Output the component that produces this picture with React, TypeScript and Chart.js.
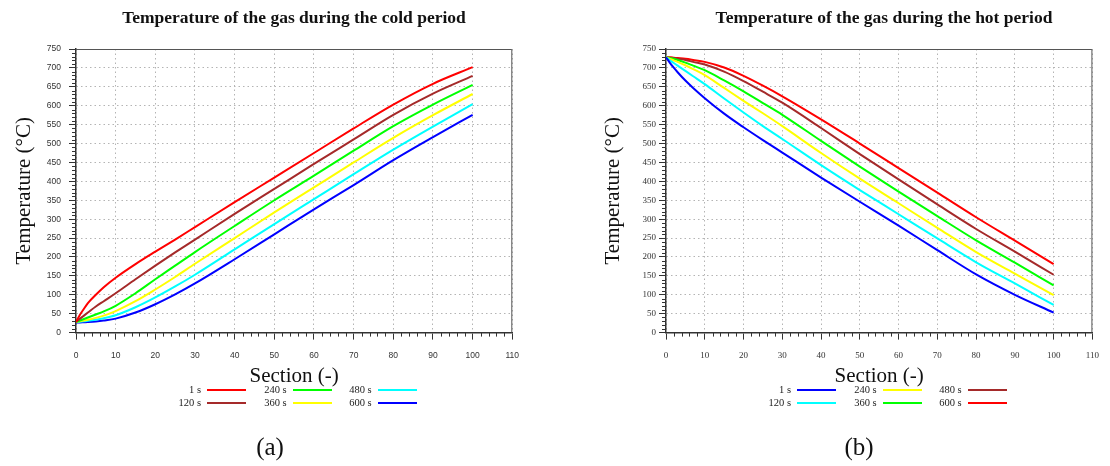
import React, { useEffect, useRef } from "react";
import { Chart, registerables } from "chart.js";

Chart.register(...registerables);

// ---------- data ----------
const SECTIONS = [0, 1, 2, 3, 5, 7, 10, 15, 20, 25, 30, 40, 50, 60, 70, 80, 90, 100];
const TIME_LABELS = ["1 s", "120 s", "240 s", "360 s", "480 s", "600 s"];

// cold period (gas temperature, °C)
const COLD_1S = [28, 47, 63, 78, 100, 120, 145, 181, 214, 246, 279, 345, 410, 475, 540, 603, 658, 702];
const COLD_120S = [28, 37, 45, 53, 69, 83, 104, 141, 177, 212, 246, 314, 380, 446, 511, 576, 632, 679];
const COLD_240S = [28, 32, 36, 40, 48, 56, 71, 104, 141, 177, 213, 282, 350, 415, 481, 546, 603, 655];
const COLD_360S = [28, 30, 32, 34, 39, 45, 57, 83, 114, 147, 182, 250, 318, 384, 450, 515, 575, 631];
const COLD_480S = [28, 29, 30, 31, 34, 38, 46, 67, 93, 122, 153, 220, 287, 353, 419, 484, 545, 604];
const COLD_600S = [27, 27, 27.5, 28, 29.5, 32, 37, 53, 75, 101, 130, 194, 260, 326, 390, 456, 517, 576];

// hot period (gas temperature, °C)
const HOT_1S = [728, 713.5, 700.5, 688.5, 666.5, 647, 620, 579, 543, 509, 476, 410, 346, 283, 218, 154, 100, 53];
const HOT_120S = [728, 720, 713, 706, 692, 678, 657, 619, 582, 546, 512, 443, 377, 313, 249, 186, 130, 73];
const HOT_240S = [728, 724, 720, 716, 707, 697, 681, 647, 613, 580, 546, 475, 407, 342, 277, 213, 156, 99];
const HOT_360S = [728, 726, 724, 721, 714, 706, 694, 667, 638, 607, 576, 507, 439, 373, 308, 244, 185, 125];
const HOT_480S = [728, 727, 726, 724, 721, 716, 709, 690, 665, 637, 608, 541, 472, 405, 339, 274, 214, 153];
const HOT_600S = [728, 728, 727, 726, 724, 721, 716, 701, 679, 653, 625, 564, 500, 435, 370, 305, 243, 181];

const COLD_SERIES = [COLD_1S, COLD_120S, COLD_240S, COLD_360S, COLD_480S, COLD_600S];
const HOT_SERIES = [HOT_1S, HOT_120S, HOT_240S, HOT_360S, HOT_480S, HOT_600S];

const COLD_COLORS = ["#ff0000", "#a52a2a", "#00ff00", "#ffff00", "#00ffff", "#0000ff"];
const HOT_COLORS = ["#0000ff", "#00ffff", "#ffff00", "#00ff00", "#a52a2a", "#ff0000"];

const X_MIN = 0;
const X_MAX = 110;
const X_STEP = 10;
const X_MINOR_STEP = 2;
const Y_MIN = 0;
const Y_MAX = 750;
const Y_STEP = 50;
const Y_MINOR_STEP = 10;

const COLD_TITLE = "Temperature of the gas during the cold period";
const HOT_TITLE = "Temperature of the gas during the hot period";
const X_TITLE = "Section (-)";
const Y_TITLE = "Temperature (°C)";

const SERIF = "'Liberation Serif', 'DejaVu Serif', serif";
const SANS = "'Liberation Sans', Arial, sans-serif";

// ---------- plugin: frame + minor ticks ----------
const framePlugin = {
  id: "frameMinor",
  afterDraw(chart: any) {
    const { ctx, chartArea: a, scales } = chart;
    const x = scales.x;
    const y = scales.y;
    ctx.save();
    ctx.strokeStyle = "#555";
    ctx.lineWidth = 1;
    ctx.beginPath();
    ctx.moveTo(a.left, a.top + 0.5);
    ctx.lineTo(a.right - 0.5, a.top + 0.5);
    ctx.lineTo(a.right - 0.5, a.bottom);
    ctx.stroke();
    ctx.strokeStyle = "#333";
    ctx.beginPath();
    for (let v = X_MIN; v <= X_MAX; v += X_MINOR_STEP) {
      if (v % X_STEP === 0) continue;
      const px = Math.round(x.getPixelForValue(v)) + 0.5;
      ctx.moveTo(px, a.bottom);
      ctx.lineTo(px, a.bottom + 4);
    }
    for (let v = Y_MIN; v <= Y_MAX; v += Y_MINOR_STEP) {
      if (v % Y_STEP === 0) continue;
      const py = Math.round(y.getPixelForValue(v)) + 0.5;
      ctx.moveTo(a.left - 4, py);
      ctx.lineTo(a.left, py);
    }
    ctx.stroke();
    ctx.restore();
  },
};

type PanelProps = {
  left: number;
  series: number[][];
  colors: string[];
  tickFont: any;
  yAxisWidth: number;
  padRight: number;
  yTitlePad: number;
  yTickPad: number;
};

function Panel({ left, series, colors, tickFont, yAxisWidth, padRight, yTitlePad, yTickPad }: PanelProps) {
  const ref = useRef<HTMLCanvasElement>(null);
  useEffect(() => {
    if (!ref.current) return;
    const datasets = series.map((vals, i) => ({
      label: TIME_LABELS[i],
      data: SECTIONS.map((s, j) => ({ x: s, y: vals[j] })),
      borderColor: colors[i],
      backgroundColor: colors[i],
      borderWidth: 2,
      pointRadius: 0,
      cubicInterpolationMode: "monotone" as const,
      fill: false,
    }));
    const chart = new Chart(ref.current, {
      type: "line",
      data: { datasets },
      options: {
        animation: false,
        responsive: false,
        devicePixelRatio: 1,
        layout: { padding: { left: 0, top: 49, right: padRight, bottom: 76 } },
        plugins: { legend: { display: false }, title: { display: false }, tooltip: { enabled: false } },
        scales: {
          x: {
            type: "linear",
            min: X_MIN,
            max: X_MAX,
            ticks: { stepSize: X_STEP, font: tickFont, color: "#333", padding: 11, maxRotation: 0 },
            grid: { color: "#b4b4b4", lineWidth: 1, tickColor: "#333", tickLength: 7, tickWidth: 1 },
            border: { color: "#333", width: 1.5, dash: [1.5, 3] },
            title: {
              display: true,
              text: X_TITLE,
              font: { family: SERIF, size: 21 },
              color: "#111",
              padding: { top: 0, bottom: 1.4 },
            },
            afterFit: (s: any) => {
              s.height = 57.4;
            },
          },
          y: {
            type: "linear",
            min: Y_MIN,
            max: Y_MAX,
            ticks: { stepSize: Y_STEP, font: tickFont, color: "#333", padding: yTickPad },
            grid: { color: "#b4b4b4", lineWidth: 1, tickColor: "#333", tickLength: 7, tickWidth: 1 },
            border: { color: "#333", width: 1.5, dash: [1.5, 3] },
            title: {
              display: true,
              text: Y_TITLE,
              font: { family: SERIF, size: 21 },
              color: "#111",
              padding: { top: yTitlePad, bottom: 0 },
            },
            afterFit: (s: any) => {
              s.width = yAxisWidth;
            },
          },
        },
      },
      plugins: [framePlugin],
    });
    return () => chart.destroy();
  }, []);
  return (
    <canvas
      ref={ref}
      width={555}
      height={466}
      style={{ position: "absolute", left, top: 0, width: 555, height: 466 }}
    />
  );
}

function Legend({ colors, textEnds }: { colors: string[]; textEnds: number[] }) {
  const rows = [390, 403.3];
  return (
    <>
      {TIME_LABELS.map((lab, i) => {
        const col = Math.floor(i / 2);
        const row = i % 2;
        const end = textEnds[col];
        const cy = rows[row];
        return (
          <React.Fragment key={lab}>
            <div
              style={{
                position: "absolute",
                left: end - 60,
                width: 60,
                top: cy - 7,
                height: 14,
                lineHeight: "14px",
                textAlign: "right",
                fontFamily: SERIF,
                fontSize: 10.5,
                color: "#222",
                whiteSpace: "nowrap",
              }}
            >
              {lab}
            </div>
            <div
              style={{
                position: "absolute",
                left: end + 6,
                width: 39,
                top: cy - 1,
                height: 2,
                background: colors[i],
              }}
            />
          </React.Fragment>
        );
      })}
    </>
  );
}

function TextAt({ cx, cy, text, style }: { cx: number; cy: number; text: string; style: any }) {
  return (
    <div
      style={{
        position: "absolute",
        left: cx - 300,
        width: 600,
        top: cy - 15,
        height: 30,
        lineHeight: "30px",
        textAlign: "center",
        whiteSpace: "nowrap",
        ...style,
      }}
    >
      {text}
    </div>
  );
}

export default function App() {
  return (
    <div
      style={{
        position: "absolute",
        left: 0,
        top: 0,
        width: 1110,
        height: 466,
        background: "#fff",
        overflow: "hidden",
      }}
    >
      <Panel
        left={0}
        series={COLD_SERIES}
        colors={COLD_COLORS}
        tickFont={{ family: SANS, size: 8.5 }}
        yAxisWidth={76}
        padRight={42.7}
        yTitlePad={12}
        yTickPad={8}
      />
      <Panel
        left={555}
        series={HOT_SERIES}
        colors={HOT_COLORS}
        tickFont={{ family: SERIF, size: 9 }}
        yAxisWidth={111}
        padRight={7.3}
        yTitlePad={46}
        yTickPad={3}
      />
      <TextAt cx={294} cy={17} text={COLD_TITLE} style={{ fontFamily: SERIF, fontWeight: "bold", fontSize: 17.5, color: "#111" }} />
      <TextAt cx={884} cy={17} text={HOT_TITLE} style={{ fontFamily: SERIF, fontWeight: "bold", fontSize: 17.5, color: "#111" }} />
      <Legend colors={COLD_COLORS} textEnds={[201, 286.7, 371.7]} />
      <Legend colors={HOT_COLORS} textEnds={[791, 876.7, 961.7]} />
      <TextAt cx={270} cy={447} text="(a)" style={{ fontFamily: SERIF, fontSize: 25, color: "#111" }} />
      <TextAt cx={859} cy={447} text="(b)" style={{ fontFamily: SERIF, fontSize: 25, color: "#111" }} />
    </div>
  );
}
